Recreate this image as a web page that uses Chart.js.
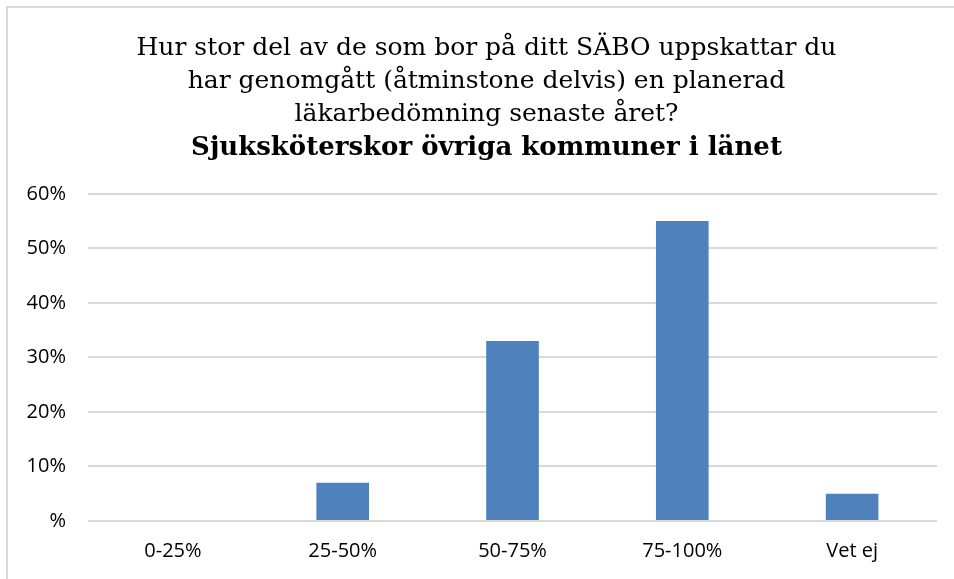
<!DOCTYPE html>
<html lang="sv">
<head>
    <meta charset="UTF-8">
    <title>Planerad läkarbedömning</title>
    <script src="https://cdn.jsdelivr.net/npm/chart.js"></script>
    <style>
        body { margin: 0; background: #fff; }
        #wrap {
            position: absolute; left: 6px; top: 6px;
            width: 948px; height: 573px;
            border-left: 2px solid #d9d9d9; border-top: 2px solid #d9d9d9;
            background: #fff;
        }
    </style>
</head>
<body>
    <div id="wrap"><canvas id="chart"></canvas></div>

    <script>
        const categories = ['0-25%', '25-50%', '50-75%', '75-100%', 'Vet ej'];
        const values = [0, 7, 33, 55, 5];
        const titleLines = [
            'Hur stor del av de som bor på ditt SÄBO uppskattar du',
            'har genomgått (åtminstone delvis) en planerad',
            'läkarbedömning senaste året?'
        ];
        const subtitleText = 'Sjuksköterskor övriga kommuner i länet';

        const canvas = document.getElementById('chart');
        canvas.width = 946;
        canvas.height = 573;
        canvas.style.width = '946px';
        canvas.style.height = '573px';

        // the title is centred on the whole frame, not on the plot: nudge the title boxes
        const shiftTitle = {
            id: 'shiftTitle',
            afterLayout(chart) {
                chart.boxes.forEach(b => {
                    if (b.options && b.options.text !== undefined && b.options.font) {
                        b.left += 10;
                        b.right += 10;
                    }
                });
            }
        };

        new Chart(canvas.getContext('2d'), {
            type: 'bar',
            data: {
                labels: categories,
                datasets: [{
                    data: values,
                    backgroundColor: '#4f81bd',
                    barPercentage: 0.31,
                    categoryPercentage: 1
                }]
            },
            options: {
                responsive: false,
                animation: false,
                layout: { padding: { left: 8, right: 17, top: 24, bottom: 0 } },
                plugins: {
                    legend: { display: false },
                    tooltip: { enabled: false },
                    title: {
                        display: true,
                        text: titleLines,
                        color: '#000',
                        font: { family: 'DejaVu Serif', size: 25, weight: 'normal', lineHeight: 1.32 },
                        padding: { top: 0, bottom: 0 }
                    },
                    subtitle: {
                        display: true,
                        text: subtitleText,
                        color: '#000',
                        font: { family: 'DejaVu Serif', size: 26, weight: 'bold', lineHeight: 1.3 },
                        padding: { top: 0, bottom: 29 }
                    }
                },
                scales: {
                    x: {
                        grid: { display: false, drawTicks: false },
                        border: { display: false },
                        ticks: {
                            color: '#000',
                            padding: 18,
                            font: { family: 'Open Sans', size: 20 }
                        }
                    },
                    y: {
                        min: 0,
                        max: 60,
                        grid: { color: '#d9d9d9', lineWidth: 2, drawTicks: false },
                        border: { display: false },
                        afterFit: (scale) => { scale.width = 72; },
                        ticks: {
                            stepSize: 10,
                            color: '#000',
                            padding: 22,
                            font: { family: 'Open Sans', size: 20 },
                            callback: (v) => v === 0 ? '%' : v + '%'
                        }
                    }
                }
            },
            plugins: [shiftTitle]
        });
    </script>
</body>
</html>
